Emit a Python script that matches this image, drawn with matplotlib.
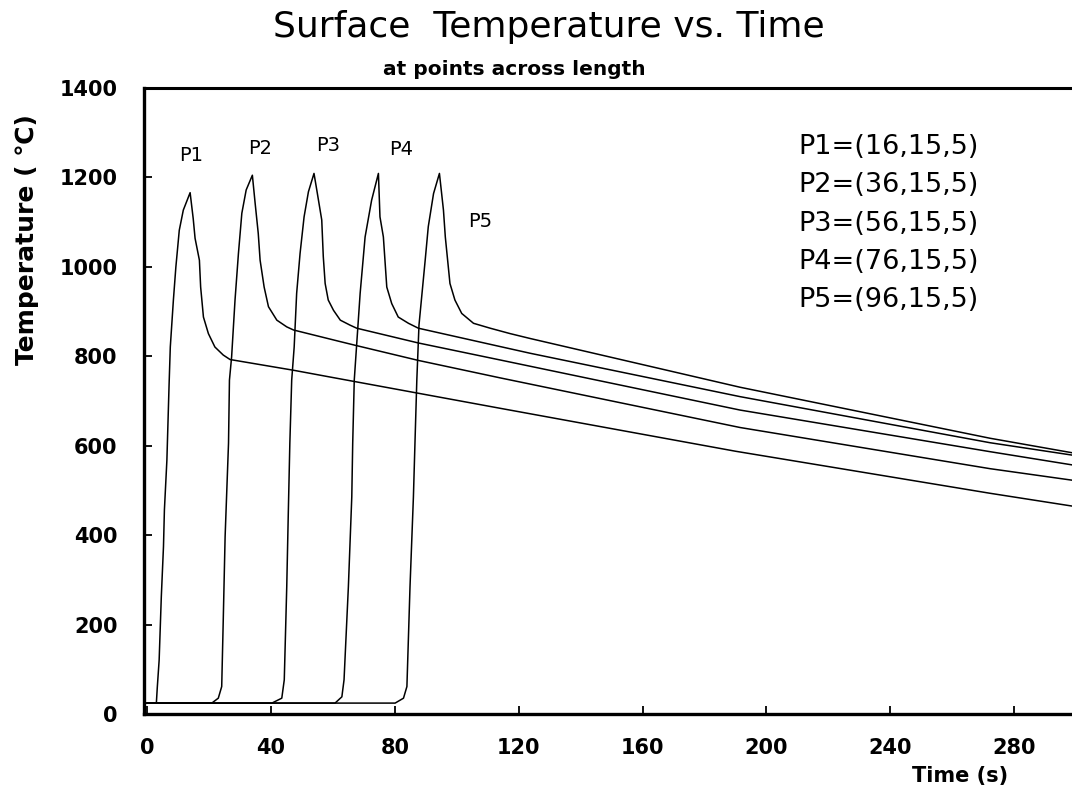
import matplotlib.pyplot as plt

# 各点の表面温度（時間 s, 温度 ℃）
p1_t = [0, 3.0, 3.3, 3.9, 4.6, 5.3, 5.6, 6.4, 7.1, 7.5, 8.5, 9.3, 10.4, 11.7, 13.9,
        14.9, 15.5, 16.9, 17.3, 18.2, 19.8, 21.9, 24.6, 26.8, 47.3, 59.0, 114.0,
        190.0, 272.2, 300.0]
p1_T = [25, 25, 60, 121, 263, 375, 457, 568, 735, 821, 926, 1000, 1082, 1127, 1166,
        1108, 1064, 1015, 955, 888, 851, 821, 803, 793, 769, 754, 684,
        588, 494, 464]

p2_t = [0, 20.9, 23.0, 24.1, 24.6, 25.2, 26.3, 26.6, 27.3, 28.4, 29.5, 30.6, 32.0, 34.0,
        34.9, 35.9, 36.5, 37.8, 39.2, 41.9, 45.1, 47.3, 62.4, 67.7, 87.6, 114.0,
        191.5, 272.2, 300.0]
p2_T = [25, 25, 36, 62, 211, 397, 606, 747, 799, 926, 1030, 1120, 1172, 1205,
        1142, 1075, 1015, 955, 911, 881, 866, 859, 833, 824, 791, 752,
        641, 549, 522]

p3_t = [0, 40.3, 43.5, 44.3, 45.1, 45.6, 46.1, 46.7, 47.5, 48.3, 49.4, 50.7, 52.1, 53.9,
        54.8, 56.4, 56.9, 57.5, 58.5, 60.2, 62.4, 65.5, 67.7, 87.6, 114.0,
        191.5, 272.2, 300.0]
p3_T = [25, 25, 36, 77, 285, 449, 606, 747, 821, 941, 1030, 1112, 1168, 1209,
        1172, 1105, 1023, 963, 926, 903, 881, 870, 863, 830, 792,
        680, 587, 556]

p4_t = [0, 60.7, 62.9, 63.6, 65.0, 66.1, 66.4, 66.9, 68.8, 70.4, 72.5, 74.7,
        75.2, 76.3, 77.4, 79.0, 81.1, 84.4, 87.6, 114.0, 123.7,
        191.5, 272.2, 300.0]
p4_T = [25, 25, 39, 77, 285, 486, 606, 747, 941, 1067, 1149, 1209,
        1112, 1067, 955, 918, 888, 874, 863, 822, 807,
        710, 607, 578]

p5_t = [0, 80.1, 82.8, 83.9, 84.9, 86.0, 86.5, 87.1, 87.8, 89.8, 90.8, 92.5, 94.4,
        95.7, 96.3, 97.8, 99.4, 101.6, 105.4, 110.8, 117.2, 123.7,
        191.5, 272.2, 300.0]
p5_T = [25, 25, 36, 62, 285, 486, 606, 747, 870, 1015, 1090, 1164, 1209,
        1127, 1067, 963, 926, 896, 874, 863, 851, 840,
        731, 617, 583]

series = [(p1_t, p1_T), (p2_t, p2_T), (p3_t, p3_T), (p4_t, p4_T), (p5_t, p5_T)]

# 曲線ラベルとその位置
point_names = ['P1', 'P2', 'P3', 'P4', 'P5']
name_t = [14.2, 36.6, 58.4, 82.0, 107.5]
name_T = [1250, 1265, 1271, 1263, 1102]

coords = ['P1=(16,15,5)', 'P2=(36,15,5)', 'P3=(56,15,5)', 'P4=(76,15,5)', 'P5=(96,15,5)']

fig = plt.figure(figsize=(10.72, 8.05), dpi=100)
ax = fig.add_axes([0.1343, 0.1127, 0.8696, 0.778])

for t, T in series:
    ax.plot(t, T, color='black', linewidth=1.1)

for name, t, T in zip(point_names, name_t, name_T):
    ax.text(t, T, name, ha='center', va='center', fontsize=14)

# 座標の一覧（右上）
for i, s in enumerate(coords):
    fig.text(798 / 1072, 1 - (147 + i * 38.3) / 805, s, ha='left', va='center', fontsize=19.5)

ax.set_xlim(-1, 300)
ax.set_ylim(0, 1400)
ax.set_xticks(range(0, 281, 40))
ax.set_yticks(range(0, 1401, 200))
ax.tick_params(axis='both', direction='in', length=6, width=1.3, labelsize=15)
ax.tick_params(axis='x', pad=17)
ax.tick_params(axis='y', pad=19)
for lbl in ax.get_xticklabels() + ax.get_yticklabels():
    lbl.set_fontweight('bold')

for side in ['left', 'bottom']:
    ax.spines[side].set_linewidth(2.4)
ax.spines['top'].set_linewidth(2.2)
ax.spines['right'].set_visible(False)

# タイトルと軸ラベル
fig.text(549 / 1072, 1 - 37 / 805, 'Surface  Temperature vs. Time', ha='center', va='baseline', fontsize=26)
fig.text(514 / 1072, 1 - 75 / 805, 'at points across length', ha='center', va='baseline',
         fontsize=14.5, fontweight='bold')
fig.text(27 / 1072, 1 - 240 / 805, 'Temperature ( ℃)', rotation=90, ha='center', va='center',
         fontsize=18, fontweight='bold')
fig.text(960 / 1072, 1 - 776 / 805, 'Time (s)', ha='center', va='center', fontsize=15, fontweight='bold')

plt.savefig('out.png', dpi=100)
